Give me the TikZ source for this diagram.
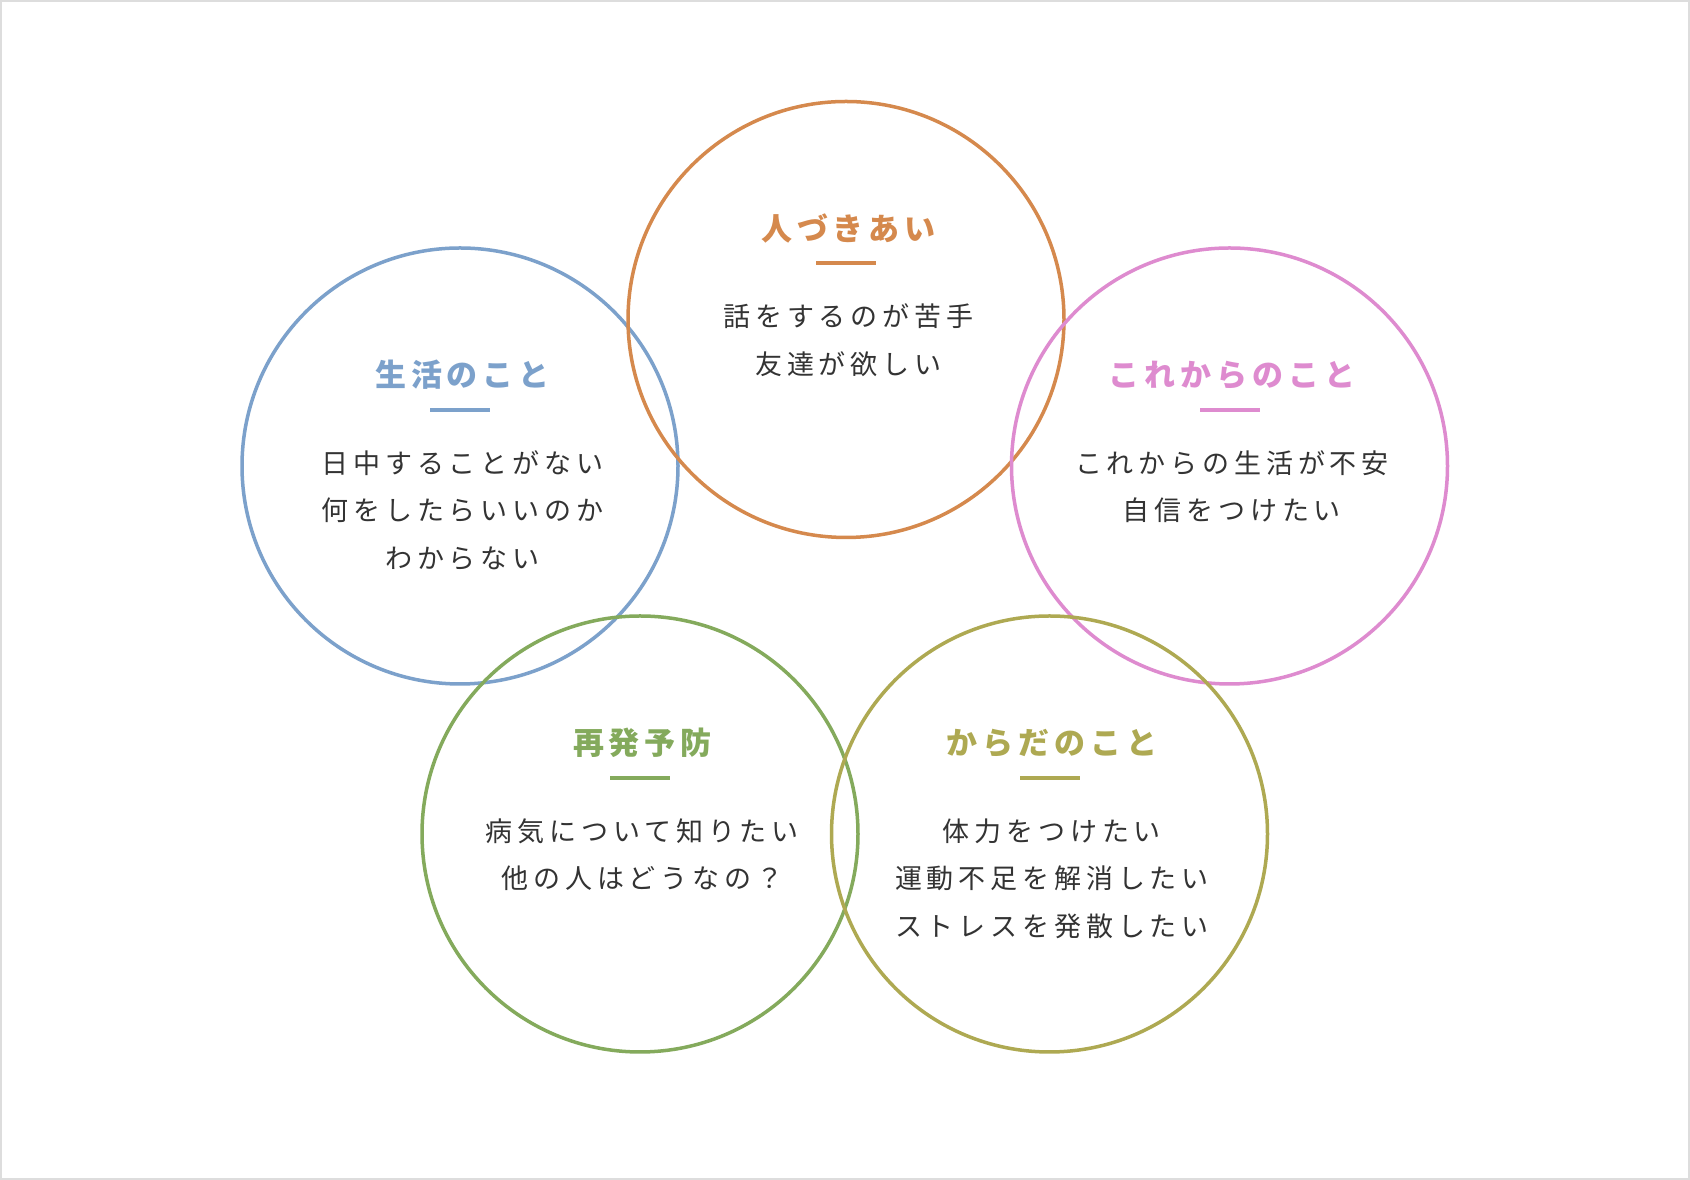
\documentclass[tikz,border=0pt]{standalone}
\usepackage{fontspec}
\usepackage{xcolor}
\usepackage{tikz}
\usetikzlibrary{positioning}
\newfontfamily\jpbody[LetterSpace=18]{Noto Sans CJK JP}
\newfontfamily\jphead[LetterSpace=16]{Noto Sans CJK JP}
\definecolor{cOrange}{HTML}{D5894D}
\definecolor{cBlue}{HTML}{7CA1CB}
\definecolor{cPink}{HTML}{DE8BCF}
\definecolor{cGreen}{HTML}{84AA5C}
\definecolor{cOlive}{HTML}{AEA952}
\definecolor{txt}{HTML}{333333}
\definecolor{frame}{HTML}{DDDDDD}
\begin{document}
\begin{tikzpicture}[x=1pt,y=1pt,
  ring/.style={circle, draw=#1, line width=3.5pt, minimum size=436pt, inner sep=0pt},
  heading/.style={text=#1, font=\jphead\bfseries\fontsize{31}{36}\selectfont, inner sep=0pt, xshift=2.5pt},
  bar/.style={fill=#1, minimum width=60pt, minimum height=4pt, inner sep=0pt},
  body/.style={text=txt, font=\jpbody\fontsize{27}{47.5}\selectfont, align=center, inner sep=0pt, xshift=2.4pt}]
\useasboundingbox (0,0) rectangle (1690,1180);
\draw [frame, line width=2pt, fill=white] (1,1) rectangle (1689,1179);

% circles
\node [ring=cBlue] (seikatsu) at (460,714) {};
\node [ring=cOrange] (hito) at (846,860.5) {};
\node [ring=cPink] (korekara) at (1229.5,714) {};
\node [ring=cGreen] (saihatsu) at (640,346) {};
\node [ring=cOlive] (karada) at (1049.5,346) {};

% hito
\node [bar=cOrange] (hito-b) at ([yshift=56pt]hito.center) {};
\node [heading=cOrange, above=18pt of hito-b] (hito-t) {人づきあい};
\node [body, below=38pt of hito-b] (hito-x) {話をするのが苦手\\友達が欲しい};

% seikatsu
\node [bar=cBlue] (seikatsu-b) at ([yshift=56pt]seikatsu.center) {};
\node [heading=cBlue, above=18pt of seikatsu-b] (seikatsu-t) {生活のこと};
\node [body, below=38pt of seikatsu-b] (seikatsu-x) {日中することがない\\何をしたらいいのか\\わからない};

% korekara
\node [bar=cPink] (korekara-b) at ([yshift=56pt]korekara.center) {};
\node [heading=cPink, above=18pt of korekara-b] (korekara-t) {これからのこと};
\node [body, below=38pt of korekara-b] (korekara-x) {これからの生活が不安\\自信をつけたい};

% saihatsu
\node [bar=cGreen] (saihatsu-b) at ([yshift=56pt]saihatsu.center) {};
\node [heading=cGreen, above=18pt of saihatsu-b] (saihatsu-t) {再発予防};
\node [body, below=38pt of saihatsu-b] (saihatsu-x) {病気について知りたい\\他の人はどうなの？};

% karada
\node [bar=cOlive] (karada-b) at ([yshift=56pt]karada.center) {};
\node [heading=cOlive, above=18pt of karada-b] (karada-t) {からだのこと};
\node [body, below=38pt of karada-b] (karada-x) {体力をつけたい\\運動不足を解消したい\\ストレスを発散したい};

\end{tikzpicture}
\end{document}
